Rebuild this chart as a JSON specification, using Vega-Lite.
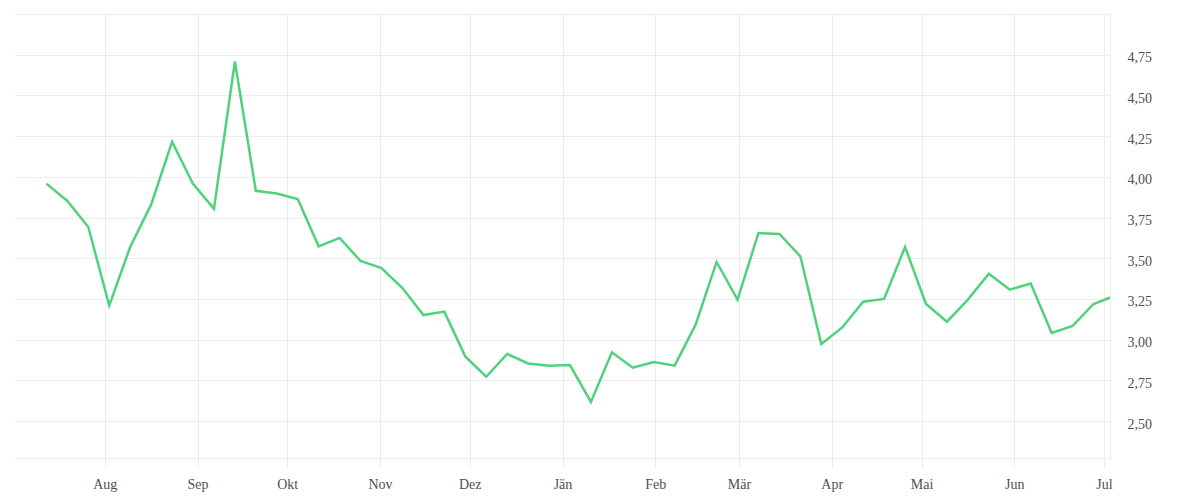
{
  "$schema": "https://vega.github.io/schema/vega-lite/v6.json",
  "width": 1095,
  "height": 444,
  "autosize": "none",
  "padding": {"left": 15, "top": 14, "right": 90, "bottom": 42},
  "background": "white",
  "data": {
    "values": [
      {"date": "2022-07-12T12:00:00", "value": 3.958},
      {"date": "2022-07-19T12:00:00", "value": 3.852},
      {"date": "2022-07-26T12:00:00", "value": 3.692},
      {"date": "2022-08-02T12:00:00", "value": 3.209},
      {"date": "2022-08-09T12:00:00", "value": 3.569},
      {"date": "2022-08-16T12:00:00", "value": 3.829},
      {"date": "2022-08-23T12:00:00", "value": 4.215},
      {"date": "2022-08-30T12:00:00", "value": 3.957},
      {"date": "2022-09-06T12:00:00", "value": 3.803},
      {"date": "2022-09-13T12:00:00", "value": 4.708},
      {"date": "2022-09-20T12:00:00", "value": 3.914},
      {"date": "2022-09-27T12:00:00", "value": 3.897},
      {"date": "2022-10-04T12:00:00", "value": 3.864},
      {"date": "2022-10-11T12:00:00", "value": 3.573},
      {"date": "2022-10-18T12:00:00", "value": 3.625},
      {"date": "2022-10-25T12:00:00", "value": 3.483},
      {"date": "2022-11-01T12:00:00", "value": 3.440},
      {"date": "2022-11-08T12:00:00", "value": 3.317},
      {"date": "2022-11-15T12:00:00", "value": 3.151},
      {"date": "2022-11-22T12:00:00", "value": 3.172},
      {"date": "2022-11-29T12:00:00", "value": 2.897},
      {"date": "2022-12-06T12:00:00", "value": 2.772},
      {"date": "2022-12-13T12:00:00", "value": 2.912},
      {"date": "2022-12-20T12:00:00", "value": 2.854},
      {"date": "2022-12-27T12:00:00", "value": 2.840},
      {"date": "2023-01-03T12:00:00", "value": 2.844},
      {"date": "2023-01-10T12:00:00", "value": 2.617},
      {"date": "2023-01-17T12:00:00", "value": 2.922},
      {"date": "2023-01-24T12:00:00", "value": 2.828},
      {"date": "2023-01-31T12:00:00", "value": 2.863},
      {"date": "2023-02-07T12:00:00", "value": 2.840},
      {"date": "2023-02-14T12:00:00", "value": 3.092},
      {"date": "2023-02-21T12:00:00", "value": 3.477},
      {"date": "2023-02-28T12:00:00", "value": 3.246},
      {"date": "2023-03-07T12:00:00", "value": 3.655},
      {"date": "2023-03-14T12:00:00", "value": 3.649},
      {"date": "2023-03-21T12:00:00", "value": 3.512},
      {"date": "2023-03-28T12:00:00", "value": 2.973},
      {"date": "2023-04-04T12:00:00", "value": 3.075},
      {"date": "2023-04-11T12:00:00", "value": 3.233},
      {"date": "2023-04-18T12:00:00", "value": 3.250},
      {"date": "2023-04-25T12:00:00", "value": 3.569},
      {"date": "2023-05-02T12:00:00", "value": 3.219},
      {"date": "2023-05-09T12:00:00", "value": 3.110},
      {"date": "2023-05-16T12:00:00", "value": 3.246},
      {"date": "2023-05-23T12:00:00", "value": 3.405},
      {"date": "2023-05-30T12:00:00", "value": 3.307},
      {"date": "2023-06-06T12:00:00", "value": 3.344},
      {"date": "2023-06-13T12:00:00", "value": 3.041},
      {"date": "2023-06-20T12:00:00", "value": 3.084},
      {"date": "2023-06-27T12:00:00", "value": 3.219},
      {"date": "2023-07-04T12:00:00", "value": 3.269}
    ]
  },
  "mark": {"type": "line", "color": "#4fd27b", "strokeWidth": 2.5, "clip": true},
  "encoding": {
    "x": {
      "field": "date",
      "type": "temporal",
      "scale": {"domain": ["2022-07-02T00:00:00", "2023-07-03T00:00:00"]},
      "axis": {
        "title": null,
        "tickCount": {"interval": "month", "step": 1},
        "labelExpr": "['Jän','Feb','Mär','Apr','Mai','Jun','Jul','Aug','Sep','Okt','Nov','Dez'][month(datum.value)]",
        "grid": true,
        "gridColor": "#ececec",
        "domainColor": "#ececec",
        "tickColor": "#ececec",
        "tickSize": 10,
        "labelPadding": 9,
        "labelFlush": false,
        "labelOverlap": false
      }
    },
    "y": {
      "field": "value",
      "type": "quantitative",
      "scale": {"domain": [2.273, 5.0], "nice": false, "zero": false},
      "axis": {
        "orient": "right",
        "title": null,
        "values": [2.5, 2.75, 3.0, 3.25, 3.5, 3.75, 4.0, 4.25, 4.5, 4.75, 5.0],
        "labelExpr": "datum.value >= 5 ? '' : replace(format(datum.value, '.2f'), '.', ',')",
        "grid": true,
        "gridColor": "#ececec",
        "domainColor": "#ececec",
        "ticks": false,
        "labelPadding": 17,
        "labelAlign": "left",
        "labelOffset": 3,
        "labelFlush": false
      }
    }
  },
  "config": {
    "view": {"stroke": null},
    "axis": {
      "labelFont": "Liberation Serif",
      "labelFontSize": 14,
      "labelColor": "#505050"
    }
  }
}
